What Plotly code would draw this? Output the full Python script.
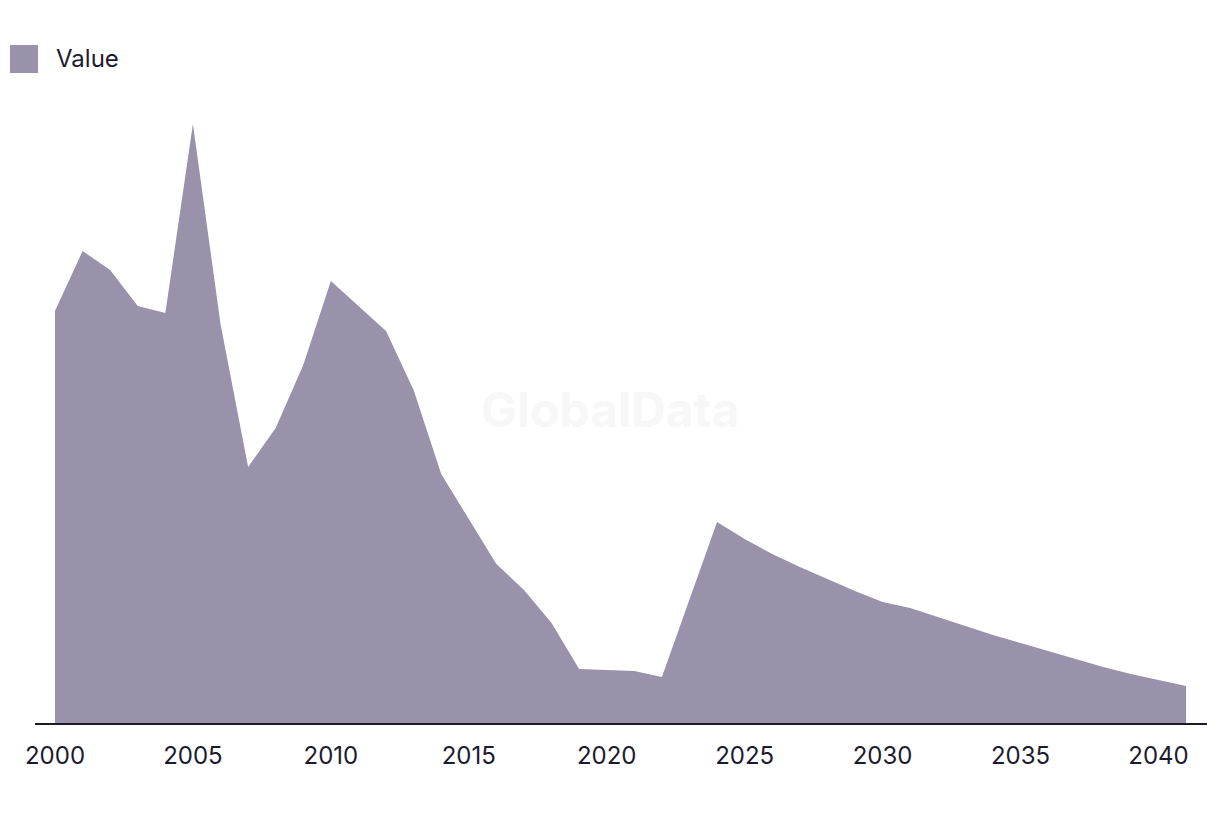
import plotly.graph_objects as go

years = list(range(2000, 2042))
values = [412, 472, 453, 417, 410, 599, 399, 256, 295, 358,
          442, 417, 392, 333, 249, 204, 159, 133, 100, 54,
          53, 52, 46, 124, 201, 184, 169, 156, 144, 132,
          121, 115, 106, 97, 88, 80, 72, 64, 56, 49,
          43, 37]
series_name = "Value"
tick_years = [2000, 2005, 2010, 2015, 2020, 2025, 2030, 2035, 2040]

FILL = "#9a91ab"
TEXT = "#1c1b2e"
FONT = "Inter, Noto Sans, sans-serif"

W, H = 1220, 814
OFF = 8  # page offset seen in the screenshot
ML, MR, MT, MB = 35 - OFF, 13 + OFF, 100 - OFF, 91 + OFF
PW = W - ML - MR
PH = H - MT - MB

def px_x(px):
    return (px - OFF - ML) / PW

def px_y(py):
    return (H - MB - (py - OFF)) / PH

fig = go.Figure()
fig.add_trace(go.Scatter(
    x=years, y=values, name=series_name, mode="lines",
    line=dict(width=0, color=FILL), fill="tozeroy", fillcolor=FILL,
    showlegend=False,
))

fig.update_layout(
    width=W, height=H,
    margin=dict(l=ML, r=MR, t=MT, b=MB),
    paper_bgcolor="white", plot_bgcolor="white",
    font=dict(family=FONT, color=TEXT, size=24),
    xaxis=dict(
        range=[1999.275, 2041.76], tickvals=tick_years,
        showgrid=False, zeroline=False, showline=True,
        linecolor=TEXT, linewidth=2, ticks="",
        ticklabelstandoff=10,
        tickfont=dict(size=24, color=TEXT, family=FONT),
    ),
    yaxis=dict(
        range=[0, PH], showgrid=False, zeroline=False,
        showticklabels=False, showline=False, fixedrange=True,
    ),
    shapes=[dict(
        type="rect", xref="paper", yref="paper",
        x0=px_x(10), x1=px_x(38), y0=px_y(73), y1=px_y(45),
        fillcolor=FILL, line=dict(width=0),
    )],
    annotations=[
        dict(text=series_name, xref="paper", yref="paper",
             x=px_x(54), y=px_y(58), xanchor="left", yanchor="middle",
             showarrow=False, font=dict(size=24, color=TEXT, family=FONT)),
        dict(text="<b>GlobalData</b>", xref="paper", yref="paper",
             x=px_x(610), y=px_y(409), xanchor="center", yanchor="middle",
             showarrow=False, font=dict(size=48, color="#f7f7f7", family=FONT)),
    ],
)

fig.write_html("out.html")
